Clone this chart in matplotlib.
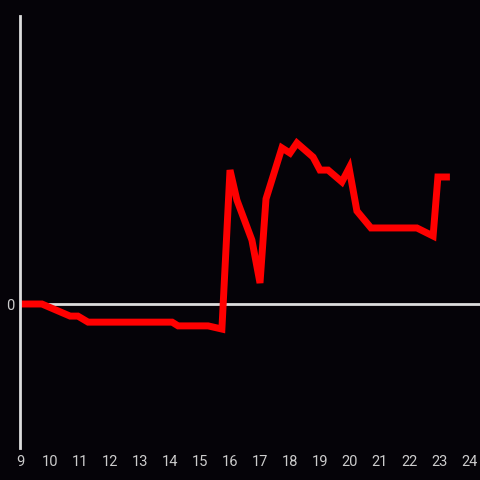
import matplotlib.pyplot as plt

# hour of day vs. change
hours = [9.0, 9.73, 10.67, 10.93, 11.27, 14.07, 14.27, 15.27, 15.73,
         16.0, 16.23, 16.73, 17.0, 17.2, 17.73, 18.0, 18.23, 18.77,
         19.0, 19.27, 19.73, 19.97, 20.23, 20.7, 22.23, 22.77, 22.93, 23.33]
values = [0.0, 0.0, -0.42, -0.42, -0.63, -0.63, -0.76, -0.76, -0.87,
          4.65, 3.61, 2.22, 0.73, 3.65, 5.42, 5.24, 5.59, 5.10,
          4.65, 4.65, 4.24, 4.72, 3.23, 2.64, 2.64, 2.36, 4.41, 4.41]
xticks = list(range(9, 25))

bg = '#050308'
fg = '#dddddd'

fig = plt.figure(figsize=(4.8, 4.8), dpi=100, facecolor=bg)
ax = fig.add_axes([20 / 480, 32 / 480, 460 / 480, 432 / 480], facecolor=bg)

ax.axhline(0, color=fg, lw=2, zorder=1)
ax.plot(hours, values, color='#ff0000', lw=5, solid_joinstyle='miter',
        solid_capstyle='butt', zorder=2)

ax.set_xlim(9, 24 + 1 / 3)
ax.set_ylim(-5, 10)

for side in ['top', 'right', 'bottom']:
    ax.spines[side].set_visible(False)
ax.spines['left'].set_color(fg)
ax.spines['left'].set_linewidth(2)

ax.set_xticks(xticks)
ax.set_xticklabels([str(t) for t in xticks])
ax.set_yticks([0])
ax.set_yticklabels(['0'])
ax.tick_params(length=0, colors='#cccccc', labelsize=10.5)
ax.tick_params(axis='x', pad=5)
ax.tick_params(axis='y', pad=4)
for lab in ax.get_xticklabels() + ax.get_yticklabels():
    lab.set_family('Roboto')

fig.savefig('out.png', facecolor=bg)
